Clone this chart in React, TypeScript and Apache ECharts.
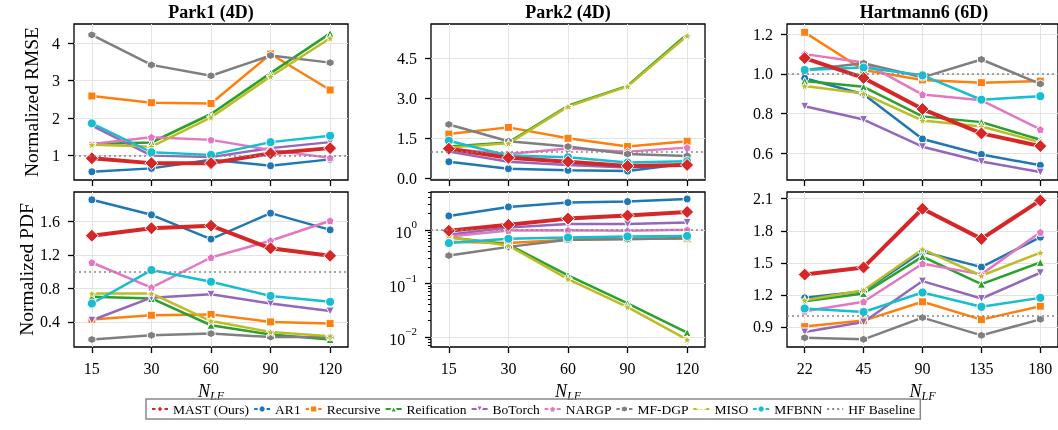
import React, { useEffect, useRef } from 'react';
import * as echarts from 'echarts';

const parkX = ['15', '30', '60', '90', '120'];
const hartX = ['22', '45', '90', '135', '180'];

const methods = ['MAST (Ours)', 'AR1', 'Recursive', 'Reification', 'BoTorch', 'NARGP', 'MF-DGP', 'MISO', 'MFBNN'];
const colors = ['#d62728', '#1f77b4', '#ff7f0e', '#2ca02c', '#9467bd', '#e377c2', '#7f7f7f', '#bcbd22', '#17becf'];

// rows follow the methods order
const park1Rmse = [
  [0.93, 0.8, 0.8, 1.06, 1.2],
  [0.57, 0.66, 0.89, 0.73, 0.9],
  [2.59, 2.41, 2.39, 3.71, 2.75],
  [1.31, 1.35, 2.11, 3.2, 4.26],
  [1.8, 1.0, 0.96, 1.2, 1.36],
  [1.31, 1.49, 1.42, 1.15, 0.94],
  [4.22, 3.42, 3.13, 3.67, 3.48],
  [1.29, 1.24, 2.02, 3.11, 4.13],
  [1.86, 1.09, 1.02, 1.36, 1.53],
];
const park2Rmse = [
  [1.11, 0.77, 0.62, 0.46, 0.5],
  [0.62, 0.36, 0.3, 0.27, 0.55],
  [1.66, 1.91, 1.5, 1.19, 1.39],
  [1.19, 1.34, 2.72, 3.47, 5.41],
  [1.0, 0.62, 0.5, 0.4, 0.52],
  [1.1, 0.91, 1.12, 1.0, 1.15],
  [2.02, 1.39, 1.19, 0.91, 0.84],
  [1.15, 1.31, 2.69, 3.45, 5.35],
  [1.41, 0.85, 0.79, 0.59, 0.64],
];
const hartRmse = [
  [1.08, 0.98, 0.823, 0.7, 0.636],
  [0.978, 0.898, 0.672, 0.594, 0.539],
  [1.21, 1.02, 0.97, 0.956, 0.964],
  [0.964, 0.935, 0.786, 0.757, 0.668],
  [0.837, 0.77, 0.633, 0.558, 0.505],
  [1.1, 1.058, 0.896, 0.867, 0.72],
  [1.02, 1.054, 0.983, 1.073, 0.95],
  [0.939, 0.901, 0.765, 0.735, 0.655],
  [1.02, 1.032, 0.993, 0.87, 0.888],
];
const park1Pdf = [
  [1.43, 1.52, 1.55, 1.28, 1.19],
  [1.86, 1.68, 1.39, 1.7, 1.5],
  [0.43, 0.48, 0.49, 0.4, 0.38],
  [0.7, 0.68, 0.36, 0.25, 0.19],
  [0.42, 0.69, 0.73, 0.62, 0.53],
  [1.11, 0.81, 1.17, 1.37, 1.61],
  [0.19, 0.24, 0.26, 0.22, 0.22],
  [0.74, 0.74, 0.41, 0.28, 0.23],
  [0.62, 1.02, 0.88, 0.71, 0.64],
];
const park2Pdf = [
  [0.96, 1.24, 1.62, 1.85, 2.16],
  [1.82, 2.68, 3.23, 3.37, 3.78],
  [0.6, 0.57, 0.65, 0.68, 0.68],
  [0.73, 0.53, 0.141, 0.042, 0.012],
  [0.81, 1.1, 1.28, 1.28, 1.37],
  [0.75, 0.97, 0.98, 0.96, 1.0],
  [0.33, 0.48, 0.65, 0.67, 0.7],
  [0.73, 0.51, 0.12, 0.036, 0.0089],
  [0.565, 0.68, 0.72, 0.75, 0.77],
];
const hartPdf = [
  [1.39, 1.457, 2.006, 1.724, 2.084],
  [1.172, 1.235, 1.605, 1.46, 1.74],
  [0.903, 0.959, 1.135, 0.968, 1.094],
  [1.141, 1.213, 1.558, 1.3, 1.504],
  [0.852, 0.946, 1.329, 1.166, 1.407],
  [1.047, 1.135, 1.492, 1.392, 1.786],
  [0.799, 0.784, 0.987, 0.821, 0.971],
  [1.15, 1.244, 1.627, 1.379, 1.595],
  [1.072, 1.04, 1.222, 1.088, 1.172],
];

const yTicks = [
  [1, 2, 3, 4],
  [0, 1.5, 3, 4.5],
  [0.6, 0.8, 1.0, 1.2],
  [0.4, 0.8, 1.2, 1.6],
  [-2, -1, 0],
  [0.9, 1.2, 1.5, 1.8, 2.1],
];
const yRange = [
  [0.35, 4.51],
  [-0.065, 5.79],
  [0.465, 1.252],
  [0.1, 1.953],
  [-2.19, 0.707],
  [0.712, 2.163],
];
const titles = ['Park1 (4D)', 'Park2 (4D)', 'Hartmann6 (6D)'];

const FONT = '"Liberation Serif", "Times New Roman", "DejaVu Serif", serif';

const pentagon = 'path://M0,-10 L9.51,-3.09 L5.88,8.09 L-5.88,8.09 L-9.51,-3.09 Z';
const hexagon = 'path://M0,-10 L8.66,-5 L8.66,5 L0,10 L-8.66,5 L-8.66,-5 Z';
const star = 'path://M0,-10 L2.35,-3.24 L9.51,-3.09 L3.8,1.24 L5.88,8.09 L0,4 L-5.88,8.09 L-3.8,1.24 L-9.51,-3.09 L-2.35,-3.24 Z';
const downTri = 'path://M-10,-8.66 L10,-8.66 L0,8.66 Z';
const symbols = ['diamond', 'circle', 'rect', 'triangle', downTri, pentagon, hexagon, star, 'circle'];
const symbolSizes = [13, 8, 8, 8, 8, 8, 8, 9, 9];

const App: React.FC = () => {
  const ref = useRef<HTMLDivElement>(null);
  useEffect(() => {
    if (!ref.current) return;
    const chart = echarts.init(ref.current, null, { renderer: 'svg' });
    const panelData = [park1Rmse, park2Rmse, hartRmse, park1Pdf, park2Pdf, hartPdf];
    const lefts = [74, 431, 787];
    const tops = [24, 192];
    const heights = [156, 155];
    const W = 274;

    const grids: any[] = [];
    const xAxes: any[] = [];
    const yAxes: any[] = [];
    const series: any[] = [];
    const graphics: any[] = [];

    for (let i = 0; i < 6; i++) {
      const col = i % 3;
      const row = Math.floor(i / 3);
      const isLog = i === 4;
      const labels = col === 2 ? hartX : parkX;
      grids.push({
        left: lefts[col], top: tops[row], width: W, height: heights[row],
        show: true, borderColor: '#000', borderWidth: 1.3, backgroundColor: 'transparent',
      });
      xAxes.push({
        type: 'value', gridIndex: i, min: -0.3, max: 4.3,
        axisLine: { show: false, onZero: false },
        axisTick: { show: true, customValues: [0, 1, 2, 3, 4], length: 6, lineStyle: { color: '#000', width: 1.3 } },
        axisLabel: {
          show: row === 1, customValues: [0, 1, 2, 3, 4],
          formatter: (v: number) => labels[Math.round(v)],
          fontFamily: FONT, fontSize: 16, color: '#000', margin: 13,
        },
        splitLine: { show: true, lineStyle: { color: '#e3e3e3', width: 1 } },
        name: row === 1 ? '{n|N}{s|LF}' : '',
        nameLocation: 'middle', nameGap: 34,
        nameTextStyle: {
          rich: {
            n: { fontFamily: FONT, fontStyle: 'italic', fontSize: 18, color: '#000', lineHeight: 20 },
            s: { fontFamily: FONT, fontStyle: 'italic', fontSize: 12, color: '#000', lineHeight: 20, padding: [9, 0, 0, 0] },
          },
        },
      });
      const ticks = yTicks[i];
      yAxes.push({
        type: 'value', gridIndex: i, position: 'left', min: yRange[i][0], max: yRange[i][1],
        axisLine: { show: false, onZero: false },
        axisTick: { show: true, customValues: ticks, length: 6, lineStyle: { color: '#000', width: 1.3 } },
        axisLabel: {
          customValues: ticks,
          formatter: isLog
            ? (v: number) => `{b|10}{s|${Math.round(v) < 0 ? '\u2212' + Math.abs(Math.round(v)) : Math.round(v)}}`
            : (v: number) => (i === 0 ? String(Math.round(v)) : v.toFixed(1)),
          fontFamily: FONT, fontSize: 16, color: '#000', margin: 14,
          rich: {
            b: { fontFamily: FONT, fontSize: 16, color: '#000', lineHeight: 22, verticalAlign: 'bottom' },
            s: { fontFamily: FONT, fontSize: 11, color: '#000', lineHeight: 22, verticalAlign: 'top' },
          },
        },
        splitLine: { show: true, lineStyle: { color: '#e3e3e3', width: 1 } },
        name: col === 0 ? (row === 0 ? 'Normalized RMSE' : 'Normalized PDF') : '',
        nameLocation: 'middle', nameGap: 33, nameRotate: 90,
        nameTextStyle: { fontFamily: FONT, fontSize: 19.5, color: '#000' },
      });

      // HF baseline
      series.push({
        type: 'line', name: 'HF Baseline', xAxisIndex: i, yAxisIndex: i, data: [],
        symbol: 'none', silent: true,
        itemStyle: { color: '#888' },
        lineStyle: { color: '#888', type: [2, 3], width: 1.5 },
        markLine: {
          silent: true, symbol: 'none', label: { show: false },
          lineStyle: { color: '#888', type: [2, 3], width: 1.5 },
          data: [{ yAxis: isLog ? 0 : 1 }],
        },
        z: 1,
      });
      const order = [1, 2, 3, 4, 5, 6, 7, 8, 0];
      order.forEach((m) => {
        const vals = panelData[i][m];
        series.push({
          type: 'line', name: methods[m], xAxisIndex: i, yAxisIndex: i,
          data: vals.map((v, k) => [k, isLog ? Math.log10(v) : v]),
          symbol: symbols[m], symbolSize: symbolSizes[m], showSymbol: true,
          itemStyle: { color: colors[m], borderColor: '#fff', borderWidth: 1 },
          lineStyle: { color: colors[m], width: m === 0 ? 4 : 2.5 },
          emphasis: { disabled: true },
          z: m === 0 ? 4 : 3,
        });
      });
    }

    // minor ticks for the log panel
    const minor: number[] = [];
    for (let e = -3; e <= 0; e++) {
      for (let k = 2; k <= 9; k++) {
        const lv = Math.log10(k) + e;
        if (lv > yRange[4][0] && lv < yRange[4][1]) minor.push(lv);
      }
    }
    yAxes.push({
      type: 'value', gridIndex: 4, position: 'left', offset: 0, min: yRange[4][0], max: yRange[4][1],
      axisLine: { show: false, onZero: false },
      axisTick: { show: true, customValues: minor, length: 3, lineStyle: { color: '#000', width: 1 } },
      axisLabel: { show: false },
      splitLine: { show: false },
    });

    for (let c = 0; c < 3; c++) {
      graphics.push({
        type: 'text', x: lefts[c] + W / 2, y: 3,
        style: { text: titles[c], textAlign: 'center', font: `bold 18px ${FONT}`, fill: '#000' },
      });
    }

    const legendData: any[] = methods.map((n) => ({ name: n }));
    legendData.push({
      name: 'HF Baseline',
      itemStyle: { color: 'rgba(0,0,0,0)', borderColor: 'rgba(0,0,0,0)', borderWidth: 0 },
    });

    chart.setOption({
      animation: false,
      grid: grids,
      xAxis: xAxes,
      yAxis: yAxes,
      series,
      graphic: graphics,
      legend: {
        data: legendData,
        left: 146, top: 399, orient: 'horizontal',
        borderColor: '#888', borderWidth: 1.5, borderRadius: 0,
        padding: [3, 5], itemGap: 4, itemWidth: 16, itemHeight: 9,
        textStyle: { fontFamily: FONT, fontSize: 13.5, color: '#000' },
        selectedMode: false,
      },
    });
    return () => chart.dispose();
  }, []);
  return <div ref={ref} style={{ position: 'fixed', left: 0, top: 0, width: 1058, height: 430 }} />;
};

export default App;
